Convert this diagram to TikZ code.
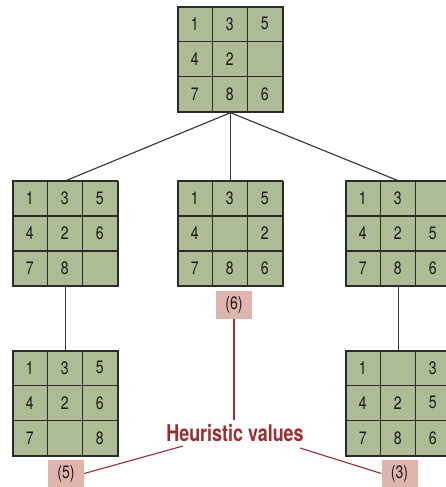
\documentclass[tikz,border=0pt]{standalone}
\usepackage{fontspec}
\setmainfont{TeX Gyre Heros}[FakeStretch=0.78]
\usetikzlibrary{calc}
\definecolor{tilegreen}{HTML}{ADBC95}
\definecolor{tileline}{HTML}{2B2B2B}
\definecolor{labelfill}{HTML}{DEB4AC}
\definecolor{hred}{HTML}{9F2B30}
\tikzset{
  board/.style={minimum width=105pt, minimum height=105pt, inner sep=0pt, draw=tileline, line width=1.4pt},
  cell/.style={minimum width=35pt, minimum height=35pt, inner sep=0pt, draw=tileline, line width=1.4pt, fill=tilegreen, text=black!90, font=\fontsize{18}{20}\selectfont},
  conn/.style={draw=black!80, line width=1.1pt},
  hlabel/.style={fill=labelfill, minimum width=36pt, minimum height=28pt, inner sep=0pt, text=black!90, font=\fontsize{18}{20}\selectfont},
  hline/.style={draw=hred, line width=1.1pt},
}
\newcommand\puzzle[3]{%
  \node[board] (#1) at (#2) {};
  \foreach \t [count=\i from 0] in {#3} {
    \pgfmathtruncatemacro\rr{int(\i/3)}
    \pgfmathtruncatemacro\cc{mod(\i,3)}
    \node[cell] (#1-\i) at ($(#1.north west)+(17.5+35*\cc,17.5+35*\rr)$) {\t};
  }
  \node[board] (#1-frame) at (#2) {};
}
\begin{document}
\begin{tikzpicture}[x=1pt,y=-1pt]
\useasboundingbox (0,0) rectangle (446,487);
\puzzle{top}{230.5,59.5}{1,3,5,4,2,{},7,8,6}
\puzzle{ml}{65.5,234}{1,3,5,4,2,6,7,8,{}}
\puzzle{mm}{230.5,234}{1,3,5,4,{},2,7,8,6}
\puzzle{mr}{398.5,234}{1,3,{},4,2,5,7,8,6}
\puzzle{bl}{65.5,403.5}{1,3,5,4,2,6,7,{},8}
\puzzle{br}{398.5,403.5}{1,{},3,4,2,5,7,8,6}
\draw[conn] (top.south) -- (ml.north);
\draw[conn] (top.south) -- (mm.north);
\draw[conn] (top.south) -- (mr.north);
\draw[conn] (ml.south) -- (bl.north);
\draw[conn] (mr.south) -- (br.north);
\node[hlabel] (h6) at (234,304.5) {(6)};
\node[hlabel] (h5) at (66,473.5) {(5)};
\node[hlabel] (h3) at (399.5,473.5) {(3)};
\node[anchor=base, text=hred, font=\fontsize{23}{26}\selectfont\bfseries] (hv) at (235,441) {Heuristic values};
\coordinate (hvT) at (234,420);
\coordinate (hvL) at (183,446);
\coordinate (hvR) at (300,448);
\draw[hline] (h6.south) -- (hvT);
\draw[hline] (hvL) -- (h5.east);
\draw[hline] (hvR) -- (h3.west);
\end{tikzpicture}
\end{document}
